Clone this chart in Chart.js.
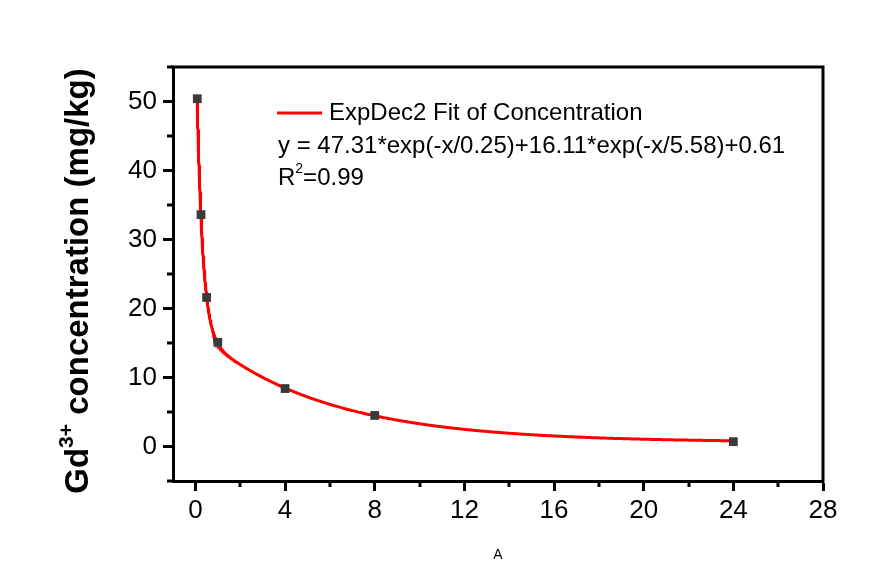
<!doctype html>
<html lang="en">
<head>
    <meta charset="utf-8">
    <title>Gd3+ concentration</title>
    <script src="https://cdn.jsdelivr.net/npm/chart.js@4.4.1/dist/chart.umd.min.js"></script>
    <style>
        body {
            margin: 0;
            background: #ffffff;
        }
    </style>
</head>

<body>
    <canvas id="chart-area" width="873" height="572"></canvas>

    <script>
    // measured samples
    var timeHours = [0.083, 0.25, 0.5, 1, 4, 8, 24];
    var concentration = [50.4, 33.6, 21.6, 15.1, 8.4, 4.5, 0.7];

    // ExpDec2 fit: A1, t1, A2, t2, y0
    var fitParams = [47.31, 0.25, 16.11, 5.58, 0.61];
    var fitR2 = 0.99;

    var xTicks = [0, 4, 8, 12, 16, 20, 24, 28];
    var yTicks = [0, 10, 20, 30, 40, 50];
    var xMinorTicks = [2, 6, 10, 14, 18, 22, 26];
    var yMinorTicks = [-5, 5, 15, 25, 35, 45, 55];

    var FONT = '"Liberation Sans", Arial, sans-serif';

    function expDec2(x) {
        return fitParams[0] * Math.exp(-x / fitParams[1]) +
            fitParams[2] * Math.exp(-x / fitParams[3]) + fitParams[4];
    }

    var points = timeHours.map(function(t, i) {
        return { x: t, y: concentration[i] };
    });

    // fitted curve over the measured range, denser near the start
    var fitCurve = [];
    var x0 = timeHours[0], x1 = timeHours[timeHours.length - 1];
    for (var i = 0; i <= 600; i++) {
        var f = i / 600;
        var x = x0 + (x1 - x0) * f * f;
        fitCurve.push({ x: x, y: expDec2(x) });
    }

    var eqText = 'y = ' + fitParams[0] + '*exp(-x/' + fitParams[1] + ')+' +
        fitParams[2] + '*exp(-x/' + fitParams[3] + ')+' + fitParams[4];

    var frame = {
        id: 'frame',
        afterDraw: function(chart) {
            var ctx = chart.ctx;
            var area = chart.chartArea;
            var xs = chart.scales.x, ys = chart.scales.y;
            ctx.save();
            ctx.strokeStyle = '#000';
            ctx.lineWidth = 3;
            ctx.lineCap = 'butt';

            // top and right sides of the box
            ctx.beginPath();
            ctx.moveTo(area.left - 1.5, area.top);
            ctx.lineTo(area.right, area.top);
            ctx.lineTo(area.right, area.bottom + 1.5);
            ctx.stroke();

            // minor ticks
            ctx.beginPath();
            xMinorTicks.forEach(function(v) {
                var px = Math.round(xs.getPixelForValue(v));
                ctx.moveTo(px, area.bottom);
                ctx.lineTo(px, area.bottom + 6);
            });
            yMinorTicks.forEach(function(v) {
                var py = Math.round(ys.getPixelForValue(v));
                ctx.moveTo(area.left, py);
                ctx.lineTo(area.left - 6, py);
            });
            ctx.stroke();

            // legend
            var lx = area.left + 104;
            ctx.strokeStyle = '#ff0000';
            ctx.lineWidth = 3;
            ctx.beginPath();
            ctx.moveTo(lx, area.top + 46);
            ctx.lineTo(lx + 45, area.top + 46);
            ctx.stroke();

            ctx.fillStyle = '#000';
            ctx.font = '24px ' + FONT;
            ctx.textBaseline = 'middle';
            ctx.textAlign = 'left';
            ctx.fillText('ExpDec2 Fit of Concentration', lx + 52, area.top + 46);
            ctx.fillText(eqText, lx + 1, area.top + 79);
            ctx.fillText('R', lx + 1, area.top + 111);
            var rw = ctx.measureText('R').width;
            ctx.font = '14px ' + FONT;
            ctx.fillText('2', lx + 1 + rw, area.top + 102);
            var sw = ctx.measureText('2').width;
            ctx.font = '24px ' + FONT;
            ctx.fillText('=' + fitR2, lx + 1 + rw + sw, area.top + 111);

            // x title
            ctx.font = '14px ' + FONT;
            ctx.textAlign = 'center';
            ctx.fillText('A', (area.left + area.right) / 2, 555);

            // y title with superscript
            var parts = [
                { t: 'Gd', f: 'bold 33px ' + FONT, dy: 0 },
                { t: '3+', f: 'bold 21px ' + FONT, dy: -15 },
                { t: ' concentration (mg/kg)', f: 'bold 33px ' + FONT, dy: 0 }
            ];
            var total = 0;
            parts.forEach(function(p) {
                ctx.font = p.f;
                p.w = ctx.measureText(p.t).width;
                total += p.w;
            });
            ctx.translate(88, 281);
            ctx.rotate(-Math.PI / 2);
            ctx.textAlign = 'left';
            ctx.textBaseline = 'alphabetic';
            var cx = -total / 2;
            parts.forEach(function(p) {
                ctx.font = p.f;
                ctx.fillText(p.t, cx, p.dy);
                cx += p.w;
            });
            ctx.restore();
        }
    };

    var config = {
        type: 'scatter',
        data: {
            datasets: [{
                label: 'Concentration',
                data: points,
                pointStyle: 'rect',
                pointRadius: 6.2,
                pointBackgroundColor: '#3a3a3a',
                pointBorderColor: '#3a3a3a',
                pointBorderWidth: 0,
                showLine: false
            }, {
                label: 'ExpDec2 Fit of Concentration',
                data: fitCurve,
                showLine: true,
                borderColor: '#ff0000',
                borderWidth: 3,
                pointRadius: 0,
                tension: 0
            }]
        },
        options: {
            responsive: false,
            animation: false,
            devicePixelRatio: 1,
            layout: {
                padding: { top: 67, right: 50, left: 0, bottom: 0 }
            },
            plugins: {
                legend: { display: false },
                tooltip: { enabled: false }
            },
            scales: {
                x: {
                    type: 'linear',
                    min: -1,
                    max: 28,
                    afterBuildTicks: function(scale) {
                        scale.ticks = xTicks.map(function(v) { return { value: v }; });
                    },
                    afterFit: function(scale) { scale.height = 91; },
                    ticks: {
                        color: '#000',
                        padding: 4,
                        maxRotation: 0,
                        font: { family: FONT, size: 26 }
                    },
                    grid: {
                        drawOnChartArea: false,
                        drawTicks: true,
                        tickLength: 10,
                        tickWidth: 3,
                        tickColor: '#000'
                    },
                    border: { display: true, color: '#000', width: 3 }
                },
                y: {
                    type: 'linear',
                    min: -5,
                    max: 55,
                    afterBuildTicks: function(scale) {
                        scale.ticks = yTicks.map(function(v) { return { value: v }; });
                    },
                    afterFit: function(scale) { scale.width = 173; },
                    ticks: {
                        color: '#000',
                        padding: 6,
                        font: { family: FONT, size: 26 }
                    },
                    grid: {
                        drawOnChartArea: false,
                        drawTicks: true,
                        tickLength: 10,
                        tickWidth: 3,
                        tickColor: '#000'
                    },
                    border: { display: true, color: '#000', width: 3 }
                }
            }
        },
        plugins: [frame]
    };

    var ctx = document.getElementById('chart-area').getContext('2d');
    window.myChart = new Chart(ctx, config);
    </script>
</body>

</html>
